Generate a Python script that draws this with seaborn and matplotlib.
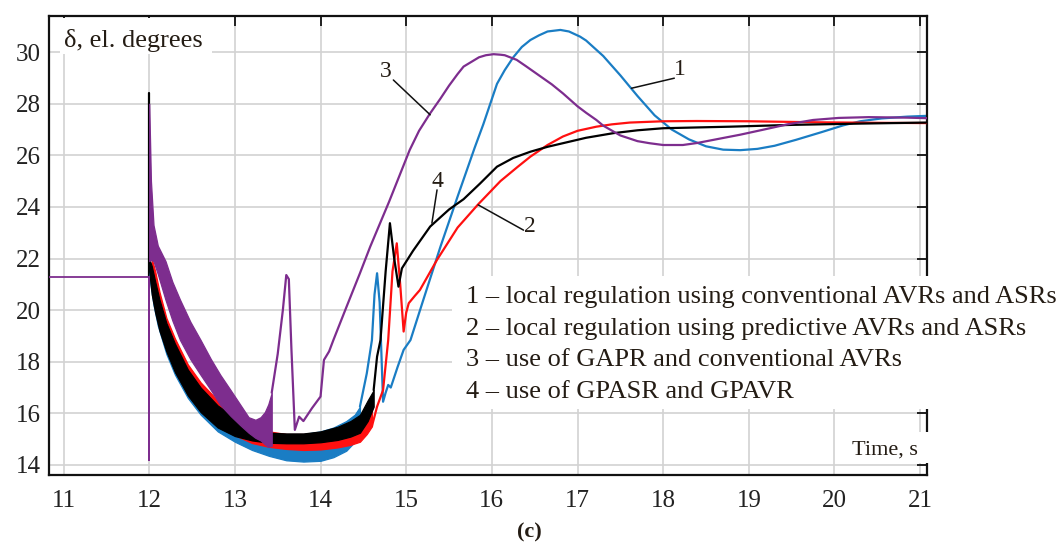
import matplotlib
matplotlib.use("Agg")
import matplotlib.pyplot as plt
from matplotlib.patches import Rectangle
import seaborn as sns

sns.set_style("white")
plt.rcParams["font.family"] = ["Liberation Serif", "DejaVu Serif"]

# ---------------------------------------------------------------- data
# steady state before the disturbance and the switching transients at t = 12 s
t_pre = [10.83, 12.0, 12.0, 12.0]
d_pre = [21.27, 21.27, 14.2, 21.27]
t_spike = [12.0, 12.0]
d_spike = [21.3, 28.4]

# 1 - local regulation, conventional AVRs and ASRs (blue)
t_band1 = [12.0, 12.05, 12.1, 12.2, 12.3, 12.45, 12.6, 12.8, 13.0, 13.2, 13.4,
           13.6, 13.8, 14.0, 14.15, 14.3, 14.4, 14.46]
lo_band1 = [21.3, 20.2, 19.4, 18.3, 17.5, 16.6, 15.95, 15.3, 14.9, 14.58, 14.35,
            14.18, 14.13, 14.16, 14.3, 14.55, 14.9, 15.4]
hi_band1 = [21.8, 21.2, 20.6, 19.5, 18.6, 17.6, 16.9, 16.2, 15.8, 15.5, 15.25,
            15.2, 15.2, 15.3, 15.45, 15.7, 15.95, 16.26]
t_line1 = [14.46, 14.54, 14.6, 14.63, 14.66, 14.69, 14.73, 14.76, 14.79, 14.82,
           14.9, 14.97, 15.05, 15.2, 15.4, 15.6, 15.8, 15.9, 16.06, 16.15, 16.25,
           16.35, 16.45, 16.55, 16.65, 16.8, 16.9, 17.03, 17.1, 17.3, 17.5, 17.7,
           17.9, 18.1, 18.3, 18.5, 18.7, 18.9, 19.1, 19.3, 19.55, 19.85, 20.1,
           20.3, 20.55, 20.85, 21.08]
d_line1 = [16.26, 17.55, 18.84, 20.6, 21.43, 20.3, 16.45, 16.8, 17.1, 17.0,
           17.8, 18.46, 18.84, 20.4, 22.46, 24.4, 26.3, 27.2, 28.77, 29.3, 29.8,
           30.2, 30.47, 30.65, 30.8, 30.86, 30.8, 30.6, 30.45, 29.85, 29.1, 28.3,
           27.55, 27.0, 26.62, 26.35, 26.22, 26.2, 26.25, 26.37, 26.6, 26.9, 27.16,
           27.32, 27.43, 27.5, 27.53]

# 2 - local regulation, predictive AVRs and ASRs (red)
t_band2 = [12.03, 12.07, 12.12, 12.2, 12.3, 12.45, 12.6, 12.8, 13.0, 13.2, 13.4,
           13.6, 13.8, 14.0, 14.2, 14.35, 14.46, 14.54, 14.6]
lo_band2 = [21.3, 20.5, 19.7, 18.8, 17.9, 17.0, 16.3, 15.6, 15.15, 14.85, 14.7,
            14.62, 14.58, 14.6, 14.68, 14.78, 14.9, 15.2, 15.5]
hi_band2 = [22.0, 21.5, 20.7, 19.7, 18.9, 17.9, 17.2, 16.5, 16.0, 15.6, 15.3,
            15.2, 15.2, 15.25, 15.4, 15.6, 15.85, 16.2, 16.5]
t_line2 = [14.6, 14.66, 14.73, 14.79, 14.84, 14.89, 14.93, 14.97, 15.0, 15.03,
           15.1, 15.16, 15.36, 15.6, 15.84, 16.1, 16.3, 16.45, 16.65, 16.83, 17.0,
           17.22, 17.4, 17.61, 18.0, 18.39, 19.0, 19.8, 20.5, 21.08]
d_line2 = [15.5, 16.26, 16.9, 18.84, 21.5, 22.59, 21.0, 19.17, 19.9, 20.27,
           20.55, 20.78, 21.95, 23.2, 24.1, 25.0, 25.55, 25.95, 26.4, 26.73, 26.95,
           27.11, 27.2, 27.27, 27.32, 27.33, 27.32, 27.28, 27.26, 27.25]

# 3 - GAPR and conventional AVRs (purple)
t_band3 = [12.0, 12.02, 12.05, 12.1, 12.19, 12.27, 12.36, 12.48, 12.6, 12.72,
           12.83, 12.95, 13.06, 13.16, 13.24, 13.3, 13.35, 13.39, 13.43]
lo_band3 = [21.9, 21.95, 21.9, 21.4, 20.4, 19.6, 18.84, 18.1, 17.49, 16.9,
            16.33, 15.9, 15.55, 15.25, 15.05, 14.95, 14.8, 14.7, 14.75]
hi_band3 = [28.0, 25.0, 23.3, 22.5, 21.9, 21.1, 20.4, 19.55, 18.84, 18.1,
            17.49, 16.9, 16.35, 15.85, 15.75, 15.85, 16.05, 16.35, 16.8]
t_line3 = [13.43, 13.5, 13.56, 13.6, 13.63, 13.66, 13.7, 13.75, 13.8, 13.9, 14.0,
           14.04, 14.1, 14.15, 14.3, 14.46, 14.58, 14.8, 15.04, 15.15, 15.28, 15.4,
           15.5, 15.6, 15.67, 15.75, 15.85, 15.93, 16.02, 16.1, 16.15, 16.29, 16.4,
           16.55, 16.7, 16.83, 17.0, 17.1, 17.22, 17.3, 17.5, 17.7, 17.84, 18.0,
           18.1, 18.23, 18.4, 18.65, 18.9, 19.15, 19.45, 19.75, 20.05, 20.4,
           20.85, 21.08]
d_line3 = [16.8, 18.3, 20.0, 21.36, 21.2, 18.5, 15.36, 15.87, 15.7, 16.2, 16.65,
           18.07, 18.4, 18.84, 20.1, 21.43, 22.46, 24.2, 26.2, 26.95, 27.63, 28.2,
           28.7, 29.15, 29.44, 29.6, 29.8, 29.88, 29.92, 29.9, 29.88, 29.7, 29.45,
           29.1, 28.75, 28.4, 27.9, 27.65, 27.37, 27.15, 26.77, 26.55, 26.47, 26.4,
           26.4, 26.4, 26.48, 26.64, 26.8, 26.98, 27.2, 27.37, 27.45, 27.48,
           27.46, 27.44]

# 4 - GPASR and GPAVR (black)
t_band4 = [12.0, 12.03, 12.07, 12.12, 12.2, 12.3, 12.45, 12.6, 12.8, 13.0, 13.2,
           13.4, 13.6, 13.8, 14.0, 14.2, 14.35, 14.46, 14.55, 14.62]
lo_band4 = [21.5, 20.6, 19.9, 19.2, 18.4, 17.6, 16.7, 16.05, 15.45, 15.12, 14.95,
            14.86, 14.84, 14.84, 14.88, 14.97, 15.1, 15.25, 15.7, 16.26]
hi_band4 = [22.0, 21.7, 21.1, 20.4, 19.5, 18.7, 17.7, 17.0, 16.3, 15.85, 15.5,
            15.25, 15.22, 15.22, 15.3, 15.48, 15.7, 15.94, 16.5, 16.9]
t_line4 = [14.62, 14.66, 14.7, 14.76, 14.81, 14.86, 14.91, 14.95, 15.08, 15.28,
           15.5, 15.67, 15.86, 16.06, 16.25, 16.45, 16.65, 16.83, 17.1, 17.42,
           17.7, 18.0, 18.78, 19.5, 20.3, 21.08]
d_line4 = [16.9, 18.2, 18.84, 21.5, 23.37, 22.0, 20.91, 21.62, 22.3, 23.24,
           23.9, 24.3, 24.9, 25.56, 25.9, 26.14, 26.33, 26.47, 26.68, 26.86,
           26.97, 27.05, 27.11, 27.18, 27.23, 27.27]

x_ticks = list(range(11, 22))
y_ticks = list(range(14, 31, 2))
legend_lines = [
    "1 \u2013 local regulation using conventional AVRs and ASRs",
    "2 \u2013 local regulation using predictive AVRs and ASRs",
    "3 \u2013 use of GAPR and conventional AVRs",
    "4 \u2013 use of GPASR and GPAVR",
]

# ---------------------------------------------------------------- style
C_BLUE = "#1a7dc4"
C_RED = "#ff1010"
C_PURPLE = "#7d2d8e"
C_BLACK = "#000000"
TXT = "#241c14"
LW = 1.6

fig = plt.figure(figsize=(10.58, 5.47), dpi=100)
ax = fig.add_axes([49 / 1058, 1 - 475 / 547, 878 / 1058, 459 / 547])


def band(t, lo, hi, color, z):
    ax.fill_between(t, lo, hi, color=color, lw=0.9, edgecolor=color, zorder=z)


def line(t, d, color, z, lw=LW):
    sns.lineplot(x=t, y=d, ax=ax, color=color, lw=lw, estimator=None,
                 sort=False, zorder=z, legend=False)


line(t_spike, d_spike, C_BLACK, 2.0)
band(t_band1, lo_band1, hi_band1, C_BLUE, 2.1)
band(t_band2, lo_band2, hi_band2, C_RED, 2.2)
band(t_band4, lo_band4, hi_band4, C_BLACK, 2.3)
band(t_band3, lo_band3, hi_band3, C_PURPLE, 2.4)
line(t_line1, d_line1, C_BLUE, 2.5)
line(t_line2, d_line2, C_RED, 2.6)
line(t_line4, d_line4, C_BLACK, 2.7)
line(t_line3, d_line3, C_PURPLE, 2.8)
line(t_pre, d_pre, C_PURPLE, 2.9, lw=1.3)

ax.set_xlim(10.83, 21.08)
ax.set_ylim(13.61, 31.4)
ax.set_xticks(x_ticks)
ax.set_yticks(y_ticks)
ax.set_xlabel("")
ax.set_ylabel("")
ax.grid(True, color="#d2d2d2", lw=1.2)
ax.set_axisbelow(True)
for s in ax.spines.values():
    s.set_color("#111111")
    s.set_linewidth(1.6)
ax.tick_params(axis="both", direction="in", top=True, right=True, length=7,
               width=1.3, labelsize=18, colors="#111111", labelcolor="#222222")
ax.tick_params(axis="x", pad=11)
ax.tick_params(axis="y", pad=6)

# curve labels with leader lines
callouts = [
    ("1", 18.19, 29.31, [18.13, 17.63], [28.99, 28.6]),
    ("2", 16.44, 23.24, [16.37, 15.84], [23.1, 24.08]),
    ("3", 14.76, 29.23, [14.85, 15.28], [28.92, 27.57]),
    ("4", 15.37, 24.98, [15.36, 15.3], [24.66, 23.37]),
]
for lab, tx, ty, lx, ly in callouts:
    ax.plot(lx, ly, color="#111111", lw=1.1, zorder=3)
    ax.text(tx, ty, lab, fontsize=17, color=TXT, ha="center", va="center",
            zorder=3)

# white panels behind the axis captions and the key
for (x0, y0, x1, y1) in [(60, 18, 212, 54), (452, 276, 1058, 409),
                         (842, 432, 935, 463)]:
    ax.add_patch(Rectangle((x0 / 1058, 1 - y1 / 547), (x1 - x0) / 1058,
                           (y1 - y0) / 547, transform=fig.transFigure,
                           facecolor="white", edgecolor="none", zorder=5,
                           clip_on=False))

fig.text(64 / 1058, 1 - 40 / 547, "\u03b4, el. degrees", fontsize=19,
         color=TXT, ha="left", va="center", zorder=6)
fig.text(918 / 1058, 1 - 450 / 547, "Time, s", fontsize=16, color=TXT,
         ha="right", va="center", zorder=6)
for i, s in enumerate(legend_lines):
    fig.text(466 / 1058, 1 - (297 + 31.5 * i) / 547, s, fontsize=19,
             color=TXT, ha="left", va="center", zorder=6)

fig.text(529 / 1058, 1 - 532 / 547, "(c)", fontsize=16, fontweight="bold",
         color=TXT, ha="center", va="center")

fig.savefig("out.png", dpi=100, facecolor="white")
